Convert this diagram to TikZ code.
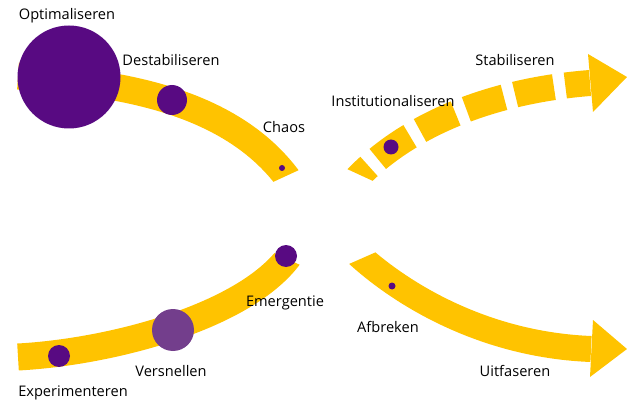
\documentclass[tikz,border=0pt]{standalone}
\usepackage{fontspec}
\setmainfont{Open Sans}
\definecolor{bandyellow}{RGB}{255,195,0}
\definecolor{pdark}{RGB}{88,10,130}
\definecolor{plight}{RGB}{115,62,140}
\begin{document}
\begin{tikzpicture}[x=1pt,y=-1pt,
  bandline/.style={draw=bandyellow, line width=27pt},
  shaftline/.style={draw=bandyellow, line width=26pt},
  lbl/.style={anchor=base, inner sep=0pt, text=black, font=\fontsize{14.6}{16}\selectfont},
  dotd/.style={circle, fill=pdark, inner sep=0pt, minimum size=#1},
  dotl/.style={circle, fill=plight, inner sep=0pt, minimum size=#1}]
\useasboundingbox (0,0) rectangle (627,401);

% top-left band
\begin{scope}
\clip (195,218) -- (351,146) -- (351,-10) -- (-10,-10) -- (-10,218) -- cycle;
\draw[bandline] (18,76) .. controls (110,82) and (225,97) .. (286,176) -- ++(12,16);
\end{scope}

% bottom-left band
\begin{scope}
\clip (168,204) -- (376,300) -- (376,410) -- (-10,410) -- (-10,204) -- cycle;
\draw[bandline] (18,357) .. controls (110,352) and (240,318) .. (287,259) -- ++(10,-13);
\end{scope}

% top-right dashed arrow
\begin{scope}
\clip (269,133) -- (451,217) -- (640,217) -- (640,-10) -- (269,-10) -- cycle;
\draw[shaftline, dash pattern=on 39.5pt off 11.5pt, dash phase=12.9pt]
  (350,185) -- (360,175) .. controls (415,120) and (500,90) .. (590,83);
\end{scope}
\fill[bandyellow] (588,54) -- (627,77) -- (593,112) -- cycle;

% bottom-right arrow
\begin{scope}
\clip (249,308) -- (474,209) -- (640,209) -- (640,410) -- (249,410) -- cycle;
\draw[shaftline] (352,249) -- (362,258) .. controls (410,300) and (490,345) .. (591,349);
\end{scope}
\fill[bandyellow] (593,320) -- (627,349) -- (590,377) -- cycle;

% dots
\node[dotd=103pt] (optim) at (69,77) {};
\node[dotd=30pt] (destab) at (172,100) {};
\node[dotd=6pt] (chaos) at (282,168) {};
\node[dotd=15pt] (instit) at (391,147) {};
\node[dotd=7pt] (afbr) at (392,286) {};
\node[dotd=22pt] (emerg) at (286,256) {};
\node[dotl=42pt] (versn) at (173,330) {};
\node[dotd=22pt] (exper) at (59,356) {};

% labels
\node[lbl] (tOptim) at (67,19.5) {Optimaliseren};
\node[lbl] (tDestab) at (171,66) {Destabiliseren};
\node[lbl] (tChaos) at (284,133) {Chaos};
\node[lbl] (tInstit) at (393,106.5) {Institutionaliseren};
\node[lbl] (tStab) at (515,65.5) {Stabiliseren};
\node[lbl] (tEmerg) at (285,306.5) {Emergentie};
\node[lbl] (tVersn) at (171,376.5) {Versnellen};
\node[lbl] (tExper) at (73,396) {Experimenteren};
\node[lbl] (tAfbr) at (388,332.5) {Afbreken};
\node[lbl] (tUitf) at (515,376.5) {Uitfaseren};
\end{tikzpicture}
\end{document}
